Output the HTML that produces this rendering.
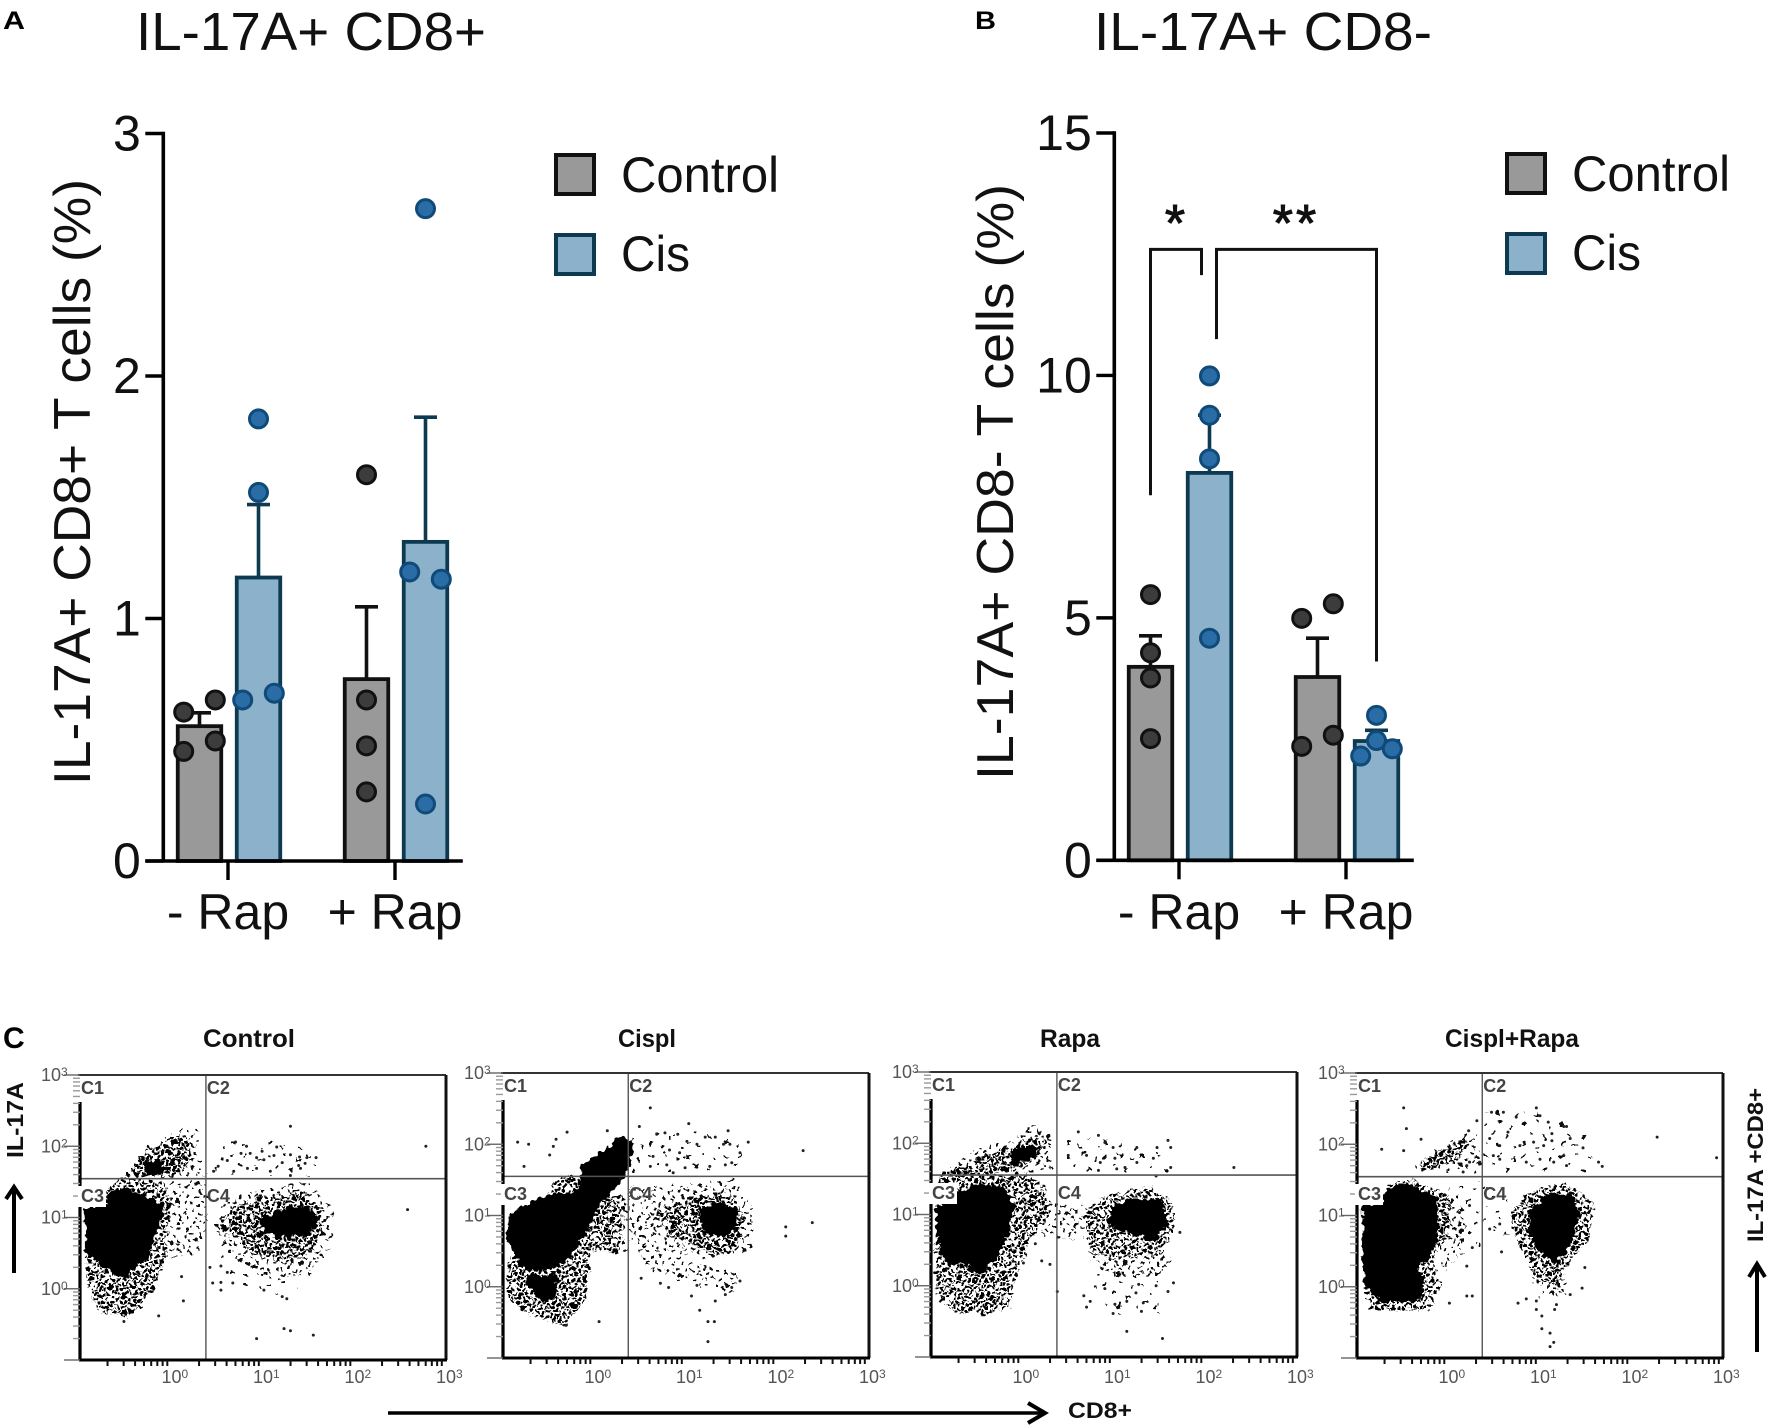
<!DOCTYPE html>
<html lang="en">
<head>
<meta charset="utf-8">
<title>IL-17A+ T cell percentages and flow cytometry plots</title>
<style>
html,body{margin:0;padding:0;background:#fff;}
svg{display:block;font-family:"Liberation Sans",Arial,sans-serif;}
</style>
</head>
<body>
<svg id="figure" xmlns="http://www.w3.org/2000/svg" width="1772" height="1426" viewBox="0 0 1772 1426">
<defs>
<pattern id="speckFaint" width="38" height="32" patternUnits="userSpaceOnUse">
<g fill="#111">
<rect x="2" y="3" width="3" height="2.5"/><rect x="17" y="1" width="2.5" height="2.5"/><rect x="30" y="6" width="3" height="2.5"/>
<rect x="10" y="12" width="3" height="2.5"/><rect x="24" y="16" width="2.5" height="3"/><rect x="3" y="22" width="3" height="2.5"/>
<rect x="15" y="25" width="3" height="2.5"/><rect x="33" y="26" width="2.5" height="2.5"/>
</g>
</pattern>
<pattern id="speckSparse" width="26" height="22" patternUnits="userSpaceOnUse">
<g fill="#111">
<rect x="1" y="2" width="3" height="2.5"/><rect x="9" y="0" width="2.5" height="2.5"/><rect x="17" y="3" width="3" height="2.5"/><rect x="23" y="7" width="2.5" height="3"/>
<rect x="5" y="7" width="2.5" height="2.5"/><rect x="13" y="8" width="3" height="2.5"/><rect x="20" y="12" width="3" height="2.5"/><rect x="1" y="13" width="3" height="2.5"/>
<rect x="8" y="14" width="2.5" height="3"/><rect x="15" y="16" width="3" height="2.5"/><rect x="22" y="18" width="2.5" height="2.5"/><rect x="4" y="19" width="3" height="2.5"/>
</g>
</pattern>
<pattern id="speckMid" width="22" height="18" patternUnits="userSpaceOnUse">
<g fill="#000">
<rect x="0" y="0" width="4" height="3"/><rect x="6" y="1" width="3" height="3"/><rect x="11" y="0" width="4" height="3"/><rect x="17" y="2" width="3.5" height="3"/>
<rect x="3" y="4" width="3" height="3.5"/><rect x="9" y="5" width="4" height="3"/><rect x="14" y="5" width="3" height="3"/><rect x="19" y="7" width="3" height="3"/>
<rect x="0" y="8" width="3.5" height="3"/><rect x="6" y="9" width="3" height="3.5"/><rect x="11" y="10" width="4" height="3"/><rect x="16" y="10" width="3" height="3.5"/>
<rect x="2" y="13" width="4" height="3"/><rect x="8" y="14" width="3" height="3"/><rect x="13" y="15" width="4" height="3"/><rect x="19" y="14" width="3" height="3"/>
</g>
</pattern>
<filter id="rough" x="-10%" y="-10%" width="120%" height="120%">
<feTurbulence type="fractalNoise" baseFrequency="0.16" numOctaves="2" seed="7" result="n"/>
<feDisplacementMap in="SourceGraphic" in2="n" scale="10" xChannelSelector="R" yChannelSelector="G"/>
<feGaussianBlur stdDeviation="0.35"/>
</filter>
</defs>

<text x="3" y="29" font-size="25" font-weight="700" textLength="22" lengthAdjust="spacingAndGlyphs" fill="#000">A</text>
<text x="975" y="29" font-size="25" font-weight="700" textLength="21" lengthAdjust="spacingAndGlyphs" fill="#000">B</text>
<text x="3" y="1048" font-size="30" font-weight="700" fill="#000">C</text>

<text x="136" y="50" font-size="54" textLength="350" lengthAdjust="spacingAndGlyphs" fill="#111">IL-17A+ CD8+</text>
<text x="1094" y="50" font-size="54" textLength="338" lengthAdjust="spacingAndGlyphs" fill="#111">IL-17A+ CD8-</text>

<text transform="translate(90 482) rotate(-90)" text-anchor="middle" font-size="52" textLength="606" lengthAdjust="spacingAndGlyphs" fill="#111">IL-17A+ CD8+ T cells (%)</text>
<text transform="translate(1013 482) rotate(-90)" text-anchor="middle" font-size="52" textLength="596" lengthAdjust="spacingAndGlyphs" fill="#111">IL-17A+ CD8- T cells (%)</text>

<g id="chartA"></g>
<g id="chartB"></g>

<g>
<rect x="556" y="155" width="38" height="39" fill="#999" stroke="#111" stroke-width="4"/>
<text x="621" y="192" font-size="50" textLength="158" lengthAdjust="spacingAndGlyphs" fill="#111">Control</text>
<rect x="556" y="235" width="38" height="39" fill="#8cb1cb" stroke="#0d3a50" stroke-width="4"/>
<text x="621" y="271" font-size="50" textLength="69" lengthAdjust="spacingAndGlyphs" fill="#111">Cis</text>
</g>
<g>
<rect x="1507" y="154" width="38" height="39" fill="#999" stroke="#111" stroke-width="4"/>
<text x="1572" y="191" font-size="50" textLength="158" lengthAdjust="spacingAndGlyphs" fill="#111">Control</text>
<rect x="1507" y="234" width="38" height="39" fill="#8cb1cb" stroke="#0d3a50" stroke-width="4"/>
<text x="1572" y="270" font-size="50" textLength="69" lengthAdjust="spacingAndGlyphs" fill="#111">Cis</text>
</g>

<g id="flowPlots"></g>

<text transform="translate(23 1158) rotate(-90)" font-size="23" font-weight="700" textLength="76" lengthAdjust="spacingAndGlyphs" fill="#111">IL-17A</text>
<g fill="none" stroke="#000" stroke-width="4">
<line x1="14" y1="1273" x2="14" y2="1187"/><polyline points="6,1199 14,1187 22,1199"/>
</g>
<text transform="translate(1763 1242) rotate(-90)" font-size="22" font-weight="700" textLength="154" lengthAdjust="spacingAndGlyphs" fill="#111">IL-17A +CD8+</text>
<g fill="none" stroke="#000" stroke-width="4">
<line x1="1757" y1="1352" x2="1757" y2="1264"/><polyline points="1749,1277 1757,1264 1765,1277"/>
</g>
<g fill="none" stroke="#000" stroke-width="3.5">
<line x1="388" y1="1413" x2="1044" y2="1413"/><polyline points="1028,1403 1045,1413 1028,1423" stroke-width="4"/>
</g>
<text x="1068" y="1418" font-size="22" font-weight="700" textLength="64" lengthAdjust="spacingAndGlyphs" fill="#111">CD8+</text>
</svg>

<script>
// ---- bar chart data ----
const barCategories = ['- Rap', '+ Rap'];
const barSeries = ['Control', 'Cis'];

const chartAYTicks = [0, 1, 2, 3];
const chartAMeans = [[0.556, 1.169], [0.75, 1.316]];
const chartAErrorTops = [[0.611, 1.47], [1.048, 1.83]];
const chartAPoints = [
  [[[-1, 0.614], [1, 0.664], [1, 0.495], [-1, 0.452]], [[-1, 0.664], [1, 0.692], [0, 1.52], [0, 1.823]]],
  [[[0, 1.593], [0, 0.664], [0, 0.475], [0, 0.285]], [[0, 2.69], [-1, 1.192], [1, 1.162], [0, 0.235]]]
];

const chartBYTicks = [0, 5, 10, 15];
const chartBMeans = [[3.99, 7.99], [3.78, 2.46]];
const chartBErrorTops = [[4.63, 9.18], [4.58, 2.68]];
const chartBPoints = [
  [[[0, 5.48], [0, 4.28], [0, 3.76], [0, 2.51]], [[0, 9.99], [0, 9.18], [0, 8.28], [0, 4.58]]],
  [[[-1, 4.99], [1, 5.29], [-1, 2.35], [1, 2.58]], [[0, 2.99], [0, 2.47], [-1, 2.15], [1, 2.30]]]
];
const bracketTopValue = 12.6;
const bracketLegValues = [7.53, 12.07, 10.75, 4.1];

// ---- flow cytometry data: [log10 CD8, log10 IL-17A] ----
const flowTitles = ['Control', 'Cispl', 'Rapa', 'Cispl+Rapa'];
const flowDecades = [-1, 0, 1, 2, 3];
const flowGateX = [0.376, 0.369, 0.376, 0.369];
const flowGateY = [1.545, 1.549, 1.554, 1.545];

const flowSolidRegions = [
  [
    [[-0.93,1.14],[-0.72,1.14],[-0.69,1.33],[-0.49,1.38],[-0.27,1.29],[-0.09,1.17],[-0.16,0.86],[-0.27,0.44],[-0.42,0.30],[-0.51,0.14],[-0.64,0.23],[-0.78,0.35],[-0.93,0.54]],
    [[-0.28,1.75],[-0.11,1.82],[-0.10,1.62],[-0.26,1.60]],
    [[0.97,0.96],[1.23,1.10],[1.48,1.15],[1.59,0.96],[1.48,0.77],[1.19,0.72],[1.01,0.82]]
  ],
  [
    [[-0.93,0.99],[-0.74,1.15],[-0.53,1.27],[-0.23,1.31],[-0.12,1.5],[-0.15,1.68],[0.0,1.8],[0.15,1.95],[0.3,2.12],[0.4,2.05],[0.39,1.7],[0.25,1.45],[0.05,1.15],[-0.09,0.80],[-0.23,0.47],[-0.42,0.28],[-0.64,0.23],[-0.82,0.33],[-0.95,0.66]],
    [[-0.73,0.14],[-0.42,0.14],[-0.43,-0.14],[-0.56,-0.19],[-0.71,0]],
    [[1.15,1.03],[1.34,1.17],[1.54,1.08],[1.55,0.85],[1.41,0.70],[1.19,0.80]]
  ],
  [
    [[-0.94,1.12],[-0.73,1.12],[-0.70,1.31],[-0.46,1.43],[-0.21,1.36],[-0.10,1.12],[-0.17,0.75],[-0.28,0.42],[-0.46,0.18],[-0.65,0.32],[-0.83,0.32],[-0.92,0.61]],
    [[-0.14,1.78],[-0.03,1.94],[0.16,1.94],[0.14,1.83],[-0.06,1.71]],
    [[1.0,1.12],[1.22,1.22],[1.51,1.17],[1.58,0.89],[1.43,0.65],[1.18,0.75],[0.96,0.84]]
  ],
  [
    [[-0.93,1.14],[-0.72,1.16],[-0.68,1.37],[-0.39,1.42],[-0.13,1.23],[-0.13,0.67],[-0.24,0.38],[-0.35,0.29],[-0.28,0.01],[-0.35,-0.20],[-0.75,-0.20],[-0.92,0.06],[-0.93,0.57]],
    [[0.89,1.04],[1.07,1.28],[1.33,1.30],[1.42,1.04],[1.33,0.62],[1.18,0.34],[1.0,0.48],[0.91,0.76]]
  ]
];

const flowDenseRegions = [
  [
    [[-0.93,0.54],[-0.93,0.07],[-0.82,-0.31],[-0.49,-0.40],[-0.27,-0.17],[-0.07,0.35],[-0.05,0.82],[0.0,1.2],[-0.1,1.5],[-0.56,1.57],[-0.71,1.36]],
    [[-0.50,1.58],[-0.30,1.90],[0.02,2.13],[0.20,2.10],[0.20,1.76],[0.05,1.58]],
    [[0.50,0.86],[0.68,1.15],[1.01,1.29],[1.41,1.38],[1.63,1.15],[1.66,0.77],[1.55,0.49],[1.23,0.35],[0.90,0.49],[0.64,0.77]]
  ],
  [
    [[-0.95,0.33],[-0.95,-0.19],[-0.65,-0.42],[-0.31,-0.56],[-0.09,-0.14],[-0.05,0.52],[0.28,0.47],[0.35,1.22],[-0.34,1.60],[-0.49,1.36]],
    [[0.68,1.03],[0.97,1.22],[1.45,1.36],[1.63,0.99],[1.59,0.66],[1.45,0.42],[1.08,0.56],[0.79,0.75]]
  ],
  [
    [[-0.96,0.32],[-0.94,-0.10],[-0.76,-0.38],[-0.43,-0.40],[-0.15,-0.31],[-0.06,0.14],[0.05,0.56],[0.30,1.03],[0.27,1.36],[0.05,1.59],[-0.21,1.54],[-0.72,1.69],[-0.90,1.59]],
    [[-0.21,1.64],[-0.14,1.92],[0.12,2.11],[0.23,2.06],[0.19,1.83],[-0.03,1.69]],
    [[-0.75,1.58],[-0.45,1.8],[-0.2,1.95],[-0.1,1.6]],
    [[0.67,1.03],[0.89,1.26],[1.36,1.40],[1.65,1.17],[1.65,0.79],[1.54,0.46],[1.07,0.37],[0.74,0.46]]
  ],
  [
    [[-0.93,0.06],[-0.86,-0.32],[-0.20,-0.34],[-0.09,0.06],[-0.17,0.38],[0.01,0.76],[0.01,1.28],[-0.42,1.51],[-0.68,1.42]],
    [[-0.31,1.70],[-0.09,1.93],[0.20,2.08],[0.23,1.98],[0.05,1.75],[-0.28,1.61]],
    [[0.67,1.04],[0.93,1.37],[1.29,1.46],[1.58,1.18],[1.55,0.67],[1.29,0.29],[1.22,0.01],[0.96,0.06],[0.85,0.38],[0.71,0.76]]
  ]
];

const flowSparseRegions = [
  [
    [[-0.05,1.5],[0.37,1.5],[0.42,1.0],[0.3,0.5],[-0.05,0.4]],
    [[-0.55,1.55],[-0.3,1.95],[0,2.2],[0.3,2.3],[0.3,1.95],[0.37,1.6]],
    [[0.45,0.9],[0.6,1.25],[1.0,1.4],[1.5,1.5],[1.75,1.15],[1.75,0.6],[1.5,0.2],[1.1,0.1],[0.7,0.4]]
  ],
  [
    [[0.39,1.13],[0.72,1.08],[0.79,0.52],[1.23,0.28],[1.6,0.2],[1.5,-0.1],[0.86,0.1],[0.46,0.38]],
    [[0.35,1.4],[0.75,1.4],[1.5,1.5],[1.75,1.1],[1.7,0.5],[1.2,0.4],[0.4,0.6]]
  ],
  [
    [[-0.06,1.22],[0.67,1.12],[0.67,0.65],[0.30,0.65],[0.01,0.84]],
    [[0.74,0.46],[1.64,0.46],[1.55,0.15],[0.9,0.15]],
    [[-0.9,1.55],[-0.5,1.95],[-0.1,2.05],[0.1,2.25],[0.3,2.1],[0.35,1.6]]
  ],
  [
    [[1.0,0.1],[1.3,0.1],[1.3,-0.15],[1.0,-0.15]],
    [[-0.45,1.6],[-0.1,1.95],[0.3,2.2],[0.37,1.6]],
    [[0.01,1.3],[0.2,1.0],[0.15,0.5],[-0.05,0.2],[-0.05,1.2]]
  ]
];

const flowFaintRegions = [
  [
    [[0.4,1.6],[0.5,2.05],[1.2,2.1],[1.6,1.9],[1.6,1.6]],
    [[0.4,0.7],[0.6,0.2],[1.1,-0.1],[1.5,0.1],[1.2,0.5]]
  ],
  [
    [[0.4,1.6],[0.5,2.2],[1.2,2.2],[1.6,2.0],[1.6,1.6]],
    [[-0.1,1.2],[0.4,1.4],[0.4,0.5],[0.0,0.5]]
  ],
  [
    [[0.4,1.6],[0.5,2.1],[1.2,2.0],[1.6,1.95],[1.6,1.6]],
    [[0.7,0.2],[1.6,0.2],[1.5,-0.4],[0.9,-0.4]]
  ],
  [
    [[0.38,1.6],[0.4,2.45],[1.0,2.45],[1.5,2.2],[1.6,1.6]],
    [[0.0,1.5],[0.37,1.5],[0.37,0.6],[0.0,0.6]],
    [[0.38,1.4],[0.67,1.4],[0.7,0.7],[0.38,0.7]]
  ]
];

const flowDots = [
  [[1.30,2.28],[2.78,2.00],[2.58,1.11],[0.70,2.06],[0.82,2.00],[1.15,1.99],[0.99,1.93],[0.76,1.90],[0.61,1.80],[0.51,1.72],[0.46,1.65],[0.86,1.90],[0.93,1.84],[1.01,1.81],[1.12,1.87],[1.21,1.77],[1.30,1.88],[1.40,1.85],[1.48,1.84],[1.58,1.84],[1.39,1.73],[1.46,1.76],[1.41,1.69],[0.83,1.69],[0.93,1.69],[1.08,1.65],[0.68,1.65],[1.30,1.59],[0.42,0.30],[0.54,0.32],[0.61,0.23],[0.45,0.08],[0.54,0.09],[0.67,0.08],[0.54,-0.02],[1.01,-0.02],[1.21,-0.11],[1.26,-0.14],[1.23,-0.56],[1.30,-0.59],[0.93,-0.70],[1.55,-0.65],[0.13,-0.17],[0.11,0.17],[-0.52,-0.46],[-0.14,-0.38]],
  [[0.61,2.51],[1.03,2.29],[1.46,2.19],[1.68,2.03],[2.28,1.91],[2.09,0.84],[2.09,0.71],[2.38,0.90],[-0.84,2.03],[-0.72,2.00],[-0.45,1.97],[-0.42,2.07],[-0.30,2.17],[-0.49,1.85],[-0.77,1.69],[0.14,2.19],[0.49,2.25],[0.68,2.14],[0.77,2.16],[0.91,2.14],[1.01,2.04],[1.12,2.00],[1.21,2.10],[1.32,2.10],[1.41,2.00],[1.48,2.0],[1.59,1.88],[0.82,1.92],[0.93,1.88],[0.64,1.83],[0.61,1.69],[0.79,1.71],[0.99,1.67],[1.26,1.69],[1.43,1.71],[1.50,1.74],[0.86,1.60],[0.72,0.05],[0.81,-0.01],[0.51,0.12],[1.59,0.08],[1.50,-0.01],[1.43,-0.11],[1.32,-0.20],[1.12,0.02],[1.06,-0.13],[1.15,-0.33],[1.24,-0.49],[1.31,-0.49],[1.24,-0.77],[0.05,-0.49],[-0.31,-0.54]],
  [[0.61,2.16],[0.83,2.11],[0.90,2.01],[0.99,1.94],[1.25,1.94],[1.47,1.94],[1.59,2.04],[1.62,1.94],[2.31,1.66],[0.50,1.83],[0.70,1.83],[0.85,1.73],[1.01,1.79],[1.25,1.73],[1.43,1.79],[1.62,1.66],[0.83,1.62],[1.03,1.64],[1.12,1.66],[1.46,1.54],[1.72,0.75],[1.65,0.04],[1.59,-0.08],[1.46,0],[1.27,0.02],[1.24,-0.10],[1.14,-0.22],[0.90,-0.04],[0.67,-0.14],[0.74,-0.22],[0.70,-0.30],[1.01,-0.26],[0.99,-0.39],[1.32,-0.24],[1.30,-0.36],[1.14,-0.64],[1.53,-0.74],[0.38,-0.08],[0.30,0.30],[0.21,0.35],[0.14,0.59],[0.01,0.32]],
  [[-0.49,2.51],[-0.46,2.22],[-0.30,2.07],[-0.73,1.93],[-0.49,1.91],[2.28,2.10],[2.93,1.81],[1.68,1.69],[1.64,1.75],[1.47,1.95],[0.96,2.51],[1.0,2.40],[0.47,2.45],[0.60,2.45],[0.74,2.38],[1.09,2.31],[1.26,2.25],[1.29,2.25],[1.13,2.15],[1.13,2.05],[1.33,2.08],[0.65,2.17],[0.45,2.08],[0.56,1.98],[0.78,1.98],[0.93,2.03],[1.04,1.98],[1.26,1.84],[0.85,1.75],[1.0,1.79],[1.15,1.75],[1.29,1.70],[0.56,1.79],[0.31,2.33],[0.22,2.19],[0.23,1.75],[0.16,1.61],[0.34,1.75],[0.26,0.55],[0.20,0.29],[0.20,-0.13],[0.26,-0.13],[0.01,-0.23],[0.58,0.49],[0.76,-0.23],[0.85,-0.17],[0.96,-0.20],[0.96,-0.32],[1.02,-0.41],[1.02,-0.59],[1.11,-0.65],[1.18,-0.25],[1.16,-0.32],[1.15,-0.78],[1.11,-0.84],[1.46,-0.02],[1.33,-0.11],[1.49,0.27],[0.20,1.70],[0.49,1.84],[0.01,1.14],[0.12,1.04],[0.23,1.14],[0.45,0.81],[0.56,0.88]]
];

// ---- rendering ----
const NS = 'http://www.w3.org/2000/svg';
function make(tag, attrs, parent) {
  const el = document.createElementNS(NS, tag);
  for (const k in attrs) el.setAttribute(k, attrs[k]);
  parent.appendChild(el);
  return el;
}

function drawBarChart(root, cfg) {
  const yScale = v => cfg.y0 - (v / cfg.yMax) * (cfg.y0 - cfg.yTop);
  const groupX = g => cfg.tick0 + g * cfg.tickStep;
  const barX = (g, s) => groupX(g) + (s === 0 ? -1 : 1) * 29.5 + cfg.barShift;
  const strokes = ['#111', '#0d3a50'];
  const fills = ['#999', '#8cb1cb'];
  const ptFill = ['#3c3c3c', '#2a6ca5'];
  const ptStroke = ['#111', '#0f4a78'];

  cfg.means.forEach((groupVals, g) => {
    groupVals.forEach((v, s) => {
      const cx = barX(g, s);
      const bar = make('rect', {x: cx - 21.75, y: yScale(v), width: 43.5, height: cfg.y0 - yScale(v), fill: fills[s], stroke: strokes[s], 'stroke-width': 3.8}, root);
      
      
      const err = make('path', {d: 'M' + cx + ' ' + yScale(v) + 'V' + yScale(cfg.errors[g][s]) + 'M' + (cx - 11.5) + ' ' + yScale(cfg.errors[g][s]) + 'H' + (cx + 11.5), fill: 'none', stroke: strokes[s], 'stroke-width': 3.6}, root);
      
      
    });
  });

  const yAxis = make('line', {x1: cfg.axisX, x2: cfg.axisX, y1: yScale(cfg.yMax) - 1.7, y2: cfg.y0, stroke: '#000', 'stroke-width': 3.6}, root);
  
  
  const xAxis = make('line', {x1: cfg.axisX - 18, x2: cfg.axisX + 299.5, y1: cfg.y0, y2: cfg.y0, stroke: '#000', 'stroke-width': 3.6}, root);
  
  

  cfg.ticks.forEach(t => {
    const tick = make('line', {x1: cfg.axisX - 18, x2: cfg.axisX, y1: yScale(t), y2: yScale(t), stroke: '#000', 'stroke-width': 3.4}, root);
    
    
    const lbl = make('text', {x: cfg.axisX - 22.5, y: yScale(t) + 17, 'text-anchor': 'end', 'font-size': 50, fill: '#111'}, root);
    lbl.textContent = t;
    
    
  });

  barCategories.forEach((c, g) => {
    const tick = make('line', {x1: groupX(g), x2: groupX(g), y1: cfg.y0, y2: cfg.y0 + 19, stroke: '#000', 'stroke-width': 3.4}, root);
    
    
    const lbl = make('text', {x: groupX(g), y: 929, 'text-anchor': 'middle', 'font-size': 50, fill: '#111'}, root);
    lbl.textContent = c;
    
    
  });

  cfg.points.forEach((groupPts, g) => {
    groupPts.forEach((pts, s) => {
      pts.forEach(p => {
        const dot = make('circle', {cx: barX(g, s) + p[0] * 15.8, cy: yScale(p[1]), r: 9, fill: ptFill[s], stroke: ptStroke[s], 'stroke-width': 3}, root);
        
        
      });
    });
  });

  return {yScale: yScale, barX: barX};
}

const chartA = drawBarChart(document.getElementById('chartA'), {
  y0: 861, yTop: 133.5, yMax: 3, axisX: 163.3, tick0: 228, tickStep: 167, barShift: 1,
  ticks: chartAYTicks, means: chartAMeans, errors: chartAErrorTops, points: chartAPoints
});
const chartBRoot = document.getElementById('chartB');
const chartB = drawBarChart(chartBRoot, {
  y0: 860.3, yTop: 133, yMax: 15, axisX: 1114.3, tick0: 1179, tickStep: 167, barShift: 1,
  ticks: chartBYTicks, means: chartBMeans, errors: chartBErrorTops, points: chartBPoints
});

// significance brackets on chart B
const by = chartB.yScale;
const bx1 = chartB.barX(0, 0), bx2 = chartB.barX(0, 1), bx4 = chartB.barX(1, 1);
const bracketLeft = make('path', {d: 'M' + bx1 + ' ' + by(bracketLegValues[0]) + 'V' + by(bracketTopValue) + 'H' + (bx2 - 8) + 'V' + by(bracketLegValues[1]), fill: 'none', stroke: '#111', 'stroke-width': 3}, chartBRoot);


const bracketRight = make('path', {d: 'M' + (bx2 + 7) + ' ' + by(bracketLegValues[2]) + 'V' + by(bracketTopValue) + 'H' + bx4 + 'V' + by(bracketLegValues[3]), fill: 'none', stroke: '#111', 'stroke-width': 3}, chartBRoot);


const starOne = make('text', {x: 1175, y: 241, 'text-anchor': 'middle', 'font-size': 52, fill: '#111', stroke: '#111', 'stroke-width': 1}, chartBRoot);
starOne.textContent = '*';


const starTwo = make('text', {x: 1296, y: 241, 'text-anchor': 'middle', 'font-size': 52, 'letter-spacing': 3, fill: '#111', stroke: '#111', 'stroke-width': 1}, chartBRoot);
starTwo.textContent = '**';



// flow plots
const flowFrames = [
  {left: 80, top: 1075, titleX: 249, titleW: 92},
  {left: 503, top: 1073, titleX: 647, titleW: 58},
  {left: 931, top: 1072, titleX: 1070, titleW: 60},
  {left: 1357, top: 1073, titleX: 1512, titleW: 134}
];
const flowW = 366, flowH = 285;
const minorLogs = [2, 3, 4, 5, 6, 7, 8, 9].map(m => Math.log10(m));

flowFrames.forEach((f, i) => {
  const g = make('g', {}, document.getElementById('flowPlots'));
  
  
  const xs = v => f.left + (v + 1) / 4 * flowW;
  const ys = v => f.top + flowH - (v + 1) / 4 * flowH;
  const polyD = pts => 'M' + pts.map(p => xs(p[0]).toFixed(1) + ' ' + ys(p[1]).toFixed(1)).join('L') + 'Z';

  const title = make('text', {x: f.titleX, y: 1047, 'text-anchor': 'middle', 'font-size': 25, 'font-weight': 700, textLength: f.titleW, lengthAdjust: 'spacingAndGlyphs', fill: '#111'}, g);
  title.textContent = flowTitles[i];
  
  

  const regions = make('g', {filter: 'url(#rough)'}, g);
  
  

  flowFaintRegions[i].forEach(r => {
    const el = make('path', {d: polyD(r), fill: 'url(#speckFaint)'}, regions);
    
    
  });
  flowSparseRegions[i].forEach(r => {
    const el = make('path', {d: polyD(r), fill: 'url(#speckSparse)'}, regions);
    
    
  });
  flowDenseRegions[i].forEach(r => {
    const el = make('path', {d: polyD(r), fill: 'url(#speckMid)'}, regions);
    
    
  });
  flowSolidRegions[i].forEach(r => {
    const el = make('path', {d: polyD(r), fill: '#000', stroke: '#000', 'stroke-width': 2, 'stroke-linejoin': 'round'}, regions);
    
    
  });
  flowDots[i].forEach(p => {
    const el = make('circle', {cx: xs(p[0]), cy: ys(p[1]), r: 1.5, fill: '#222'}, g);
    
    
  });

  const gateV = make('line', {x1: xs(flowGateX[i]), x2: xs(flowGateX[i]), y1: f.top, y2: f.top + flowH, stroke: '#555', 'stroke-width': 1.4}, g);
  
  
  const gateH = make('line', {x1: f.left, x2: f.left + flowW, y1: ys(flowGateY[i]), y2: ys(flowGateY[i]), stroke: '#555', 'stroke-width': 1.6}, g);
  
  

  const frameTop = make('line', {x1: f.left - 2, x2: f.left + flowW, y1: f.top, y2: f.top, stroke: '#333', 'stroke-width': 2}, g);
  
  
  const frameRight = make('line', {x1: f.left + flowW, x2: f.left + flowW, y1: f.top, y2: f.top + flowH, stroke: '#111', 'stroke-width': 3}, g);
  
  
  const frameBottom = make('line', {x1: f.left - 1, x2: f.left + flowW + 1, y1: f.top + flowH, y2: f.top + flowH, stroke: '#000', 'stroke-width': 3}, g);
  
  
  const frameLeft = make('line', {x1: f.left, x2: f.left, y1: f.top + 27, y2: f.top + flowH, stroke: '#000', 'stroke-width': 3.2}, g);
  
  

  flowDecades.forEach((d, di) => {
    const ty = make('line', {x1: f.left - 16, x2: f.left, y1: ys(d), y2: ys(d), stroke: '#666', 'stroke-width': 1.4}, g);
    
    
    if (d >= 0) {
      const yl = make('text', {x: f.left - 39, y: ys(d) + 6, 'font-size': 18, fill: '#555'}, g);
      yl.textContent = '10';
      
      
      const ye = make('tspan', {dy: -5, 'font-size': 12}, yl);
      ye.textContent = d;
      const xl = make('text', {x: xs(d) - 10, y: 1383, 'font-size': 18, fill: '#555'}, g);
      xl.textContent = '10';
      
      
      const xe = make('tspan', {dy: -5, 'font-size': 12}, xl);
      xe.textContent = d;
    }
    if (di < flowDecades.length - 1) {
      minorLogs.forEach(m => {
        const my = make('line', {x1: f.left - 7, x2: f.left, y1: ys(d + m), y2: ys(d + m), stroke: '#999', 'stroke-width': 1.4}, g);
        
        
        const mx = make('line', {x1: xs(d + m), x2: xs(d + m), y1: f.top + flowH, y2: f.top + flowH + 6, stroke: '#111', 'stroke-width': 2}, g);
        
        
      });
    }
  });

  const boxC3 = make('rect', {x: f.left - 2, y: f.top + 111, width: 28, height: 21, fill: '#fff'}, g);
  
  

  const gx = xs(flowGateX[i]);
  const quadrantLabels = [['C1', f.left + 1, f.top + 19], ['C2', gx + 1, f.top + 19], ['C3', f.left + 1, f.top + 127], ['C4', gx + 1, f.top + 127]];
  quadrantLabels.forEach(q => {
    const t = make('text', {x: q[1], y: q[2], 'font-size': 18, 'font-weight': 700, fill: '#444'}, g);
    t.textContent = q[0];
    
    
  });
});
</script>
</body>
</html>
